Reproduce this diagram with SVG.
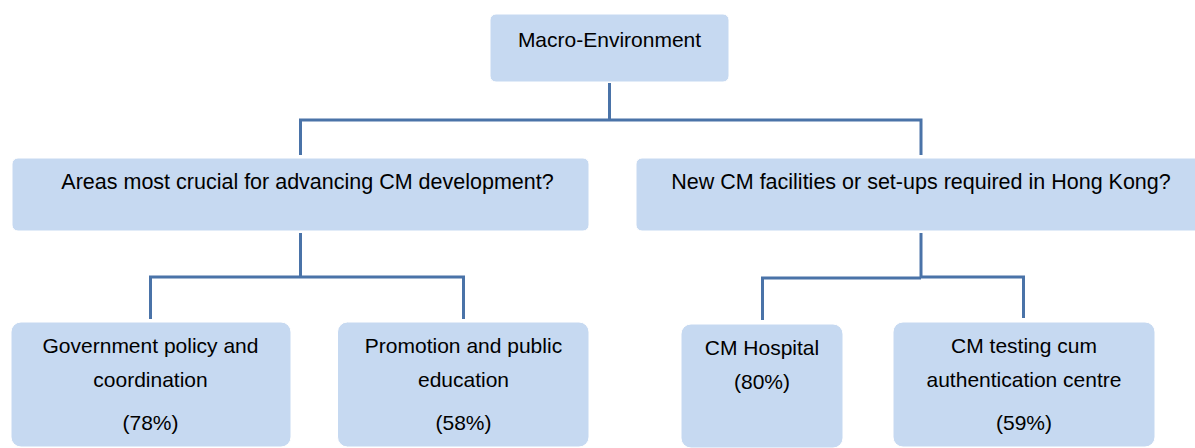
<svg xmlns="http://www.w3.org/2000/svg" width="1195" height="448" viewBox="0 0 1195 448">
<style>
.box{fill:#C6D9F1;stroke:#FFFFFF;stroke-width:1}
.t{font-family:"Liberation Sans",Arial,sans-serif;font-size:21px;fill:#000;text-anchor:middle}
.m{font-size:21.5px}
.c{fill:none;stroke:#4A73A8;stroke-width:3;stroke-linejoin:miter;stroke-linecap:butt}
</style>
<rect width="1195" height="448" fill="#FFFFFF"/>
<g id="connectors">
<path class="c" d="M609.5 83 V120"/>
<path class="c" d="M300.5 155 V120 H921 V155"/>
<path class="c" d="M300.5 233 V277"/>
<path class="c" d="M150.5 319 V277 H463.5 V319"/>
<path class="c" d="M921 233 V277"/>
<path class="c" d="M762.5 320 V278 H921"/>
<path class="c" d="M921 277 H1023.5 V318"/>
</g>
<g id="macro">
<rect class="box" x="490" y="14" width="239" height="68" rx="6"/>
<text class="t" x="609.5" y="47">Macro-Environment</text>
</g>
<g id="areas">
<rect class="box" x="12" y="158" width="577" height="73" rx="6"/>
<text class="t m" x="307.5" y="189">Areas most crucial for advancing CM development?</text>
</g>
<g id="facilities">
<rect class="box" x="636" y="158" width="570" height="73" rx="6"/>
<text class="t m" x="921" y="189">New CM facilities or set-ups required in Hong Kong?</text>
</g>
<g id="gov">
<rect class="box" x="11" y="322" width="280" height="125" rx="10"/>
<text class="t" x="150.5" y="353">Government policy and</text>
<text class="t" x="150.5" y="387">coordination</text>
<text class="t" x="150.5" y="430">(78%)</text>
</g>
<g id="promo">
<rect class="box" x="337.5" y="322" width="251.5" height="125" rx="10"/>
<text class="t" x="463.5" y="353">Promotion and public</text>
<text class="t" x="463.5" y="387">education</text>
<text class="t" x="463.5" y="430">(58%)</text>
</g>
<g id="hospital">
<rect class="box" x="681" y="324" width="162" height="124" rx="10"/>
<text class="t" x="762" y="355">CM Hospital</text>
<text class="t" x="762" y="389">(80%)</text>
</g>
<g id="testing">
<rect class="box" x="893" y="322" width="262" height="125" rx="10"/>
<text class="t" x="1024" y="353">CM testing cum</text>
<text class="t" x="1024" y="387">authentication centre</text>
<text class="t" x="1024" y="430">(59%)</text>
</g>
</svg>
